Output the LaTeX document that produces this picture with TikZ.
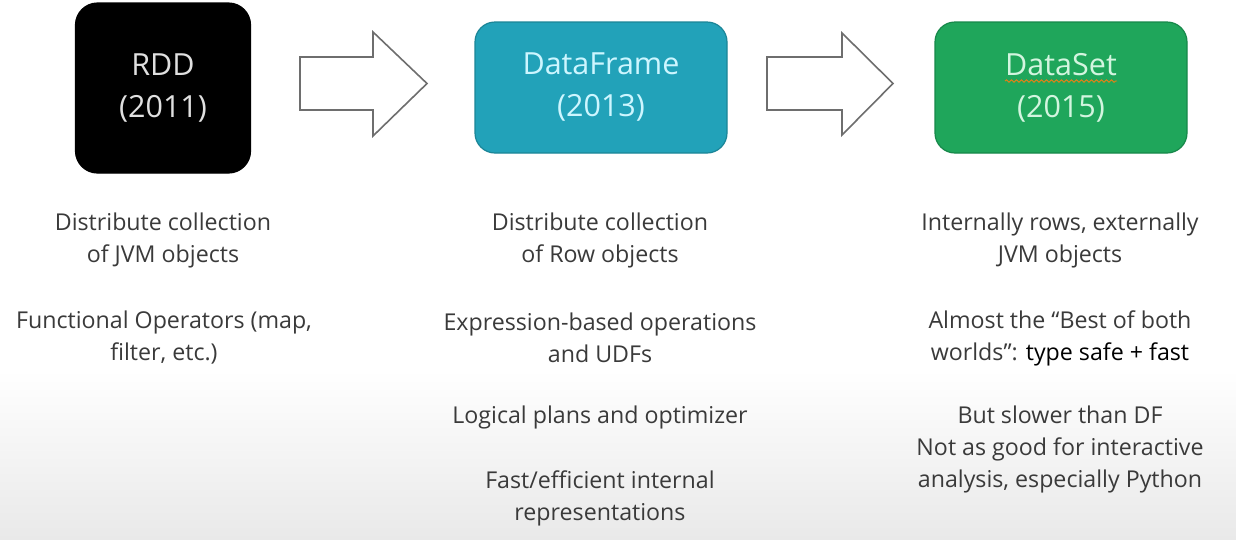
\documentclass[tikz,border=0pt]{standalone}
\usepackage{fontspec}
\setmainfont{Open Sans}
\usetikzlibrary{decorations.pathmorphing}
\definecolor{txt}{HTML}{3A3A3A}
\definecolor{rddfill}{HTML}{000000}
\definecolor{dffill}{HTML}{22A2B9}
\definecolor{dfedge}{HTML}{1B8597}
\definecolor{dftext}{HTML}{CDF6FF}
\definecolor{dsfill}{HTML}{1FA65B}
\definecolor{dsedge}{HTML}{17884A}
\definecolor{dstext}{HTML}{D3F5DF}
\definecolor{arrowedge}{HTML}{6E6E6E}
\definecolor{floor}{HTML}{E9E9E9}
\begin{document}
\begin{tikzpicture}[x=1pt,y=-1pt,
  era/.style={rounded corners=22pt, line width=1.2pt, align=center,
    font=\fontsize{30.5}{42}\selectfont},
  note/.style={align=center, text=txt, font=\fontsize{23.2}{32}\selectfont,
    inner sep=0pt, anchor=center},
  bigarrow/.style={draw=arrowedge, fill=white, line width=1.6pt, line join=miter}]
  % page and the grey floor shading towards the bottom
  \fill[white] (0,0) rectangle (1236,539);
  \shade[top color=white, bottom color=floor] (0,370) rectangle (1236,539);
  \useasboundingbox (0,0) rectangle (1236,539);

  % the three abstractions
  \node[era, fill=rddfill, draw=rddfill, text=white!88!black,
        minimum width=175pt, minimum height=170pt] (rdd) at (163,88)
        {RDD\\(2011)};
  \node[era, fill=dffill, draw=dfedge, text=dftext, rounded corners=20pt,
        minimum width=252pt, minimum height=131pt] (df) at (601,87.5)
        {DataFrame\\(2013)};
  \node[era, fill=dsfill, draw=dsedge, text=dstext, rounded corners=20pt,
        minimum width=252pt, minimum height=131pt] (ds) at (1061,87.5)
        {DataSet\\(2015)};
  % spell-check squiggle under the DataSet title
  \coordinate (sqa) at (1005,81);
  \coordinate (sqb) at (1117,81);
  \draw[color=orange!70!brown, line width=0.9pt,
        decorate, decoration={snake, amplitude=1.2pt, segment length=5pt}]
        (sqa) -- (sqb);

  % block arrows between them
  \draw[bigarrow] (300,57) -- (373,57) -- (373,32) -- (427,83.5) -- (373,136)
        -- (373,110) -- (300,110) -- cycle;
  \draw[bigarrow] (767,57) -- (842,57) -- (842,33) -- (893,83.5) -- (842,135)
        -- (842,110) -- (767,110) -- cycle;

  % RDD notes
  \node[note] (r1) at (163,240) {Distribute collection\\of JVM objects};
  \node[note] (r2) at (164,338) {Functional Operators (map,\\filter, etc.)};

  % DataFrame notes
  \node[note] (d1) at (600,240) {Distribute collection\\of Row objects};
  \node[note] (d2) at (600,338) {Expression-based operations\\and UDFs};
  \node[note] (d3) at (600,417) {Logical plans and optimizer};
  \node[note] (d4) at (600,498) {Fast/efficient internal\\representations};

  % DataSet notes
  \node[note] (s1) at (1060,240) {Internally rows, externally\\JVM objects};
  \node[note] (s2) at (1060,338) {Almost the “Best of both\\worlds”: \textcolor{black}{type safe + fast}};
  \node[note] (s3) at (1060,449) {But slower than DF\\Not as good for interactive\\analysis, especially Python};
\end{tikzpicture}
\end{document}
